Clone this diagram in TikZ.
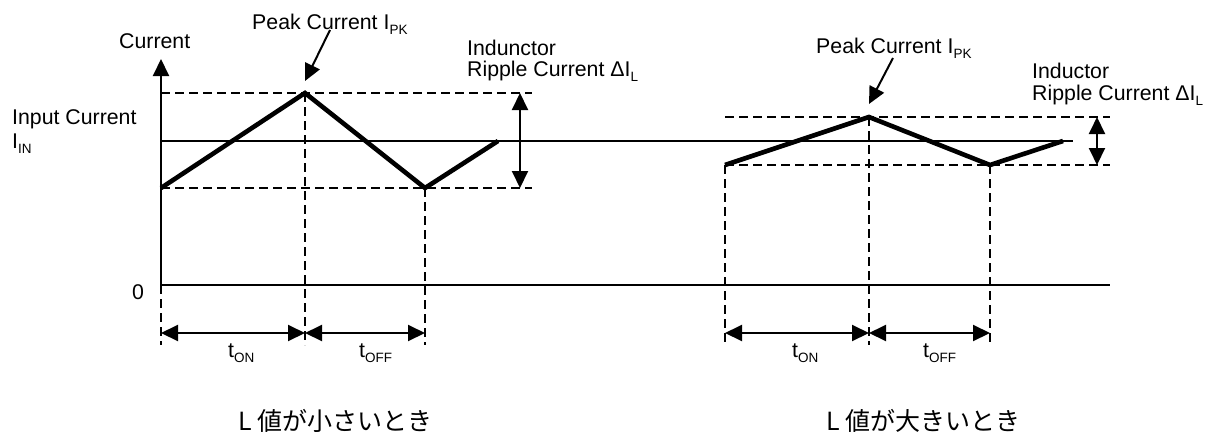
\documentclass[tikz,border=0pt]{standalone}
\usepackage{fontspec}
\setmainfont{Liberation Sans}
\newfontfamily\jpfont{Noto Sans CJK JP}
\usetikzlibrary{arrows.meta}
\newcommand\lsub[1]{\raisebox{-5pt}{\fontsize{13.5}{13.5}\selectfont #1}}
\tikzset{
  axisline/.style={line width=2pt},
  meanline/.style={line width=1.5pt},
  wave/.style={line width=4.6pt, line join=miter, line cap=butt},
  guide/.style={line width=1.7pt, dash pattern=on 9pt off 5pt},
  tip/.style={-{Triangle[length=17pt,width=16pt]}},
  dbl/.style={line width=2pt, {Triangle[length=17pt,width=16pt]}-{Triangle[length=17pt,width=16pt]}},
  lbl/.style={inner sep=0pt, anchor=base west, font=\fontsize{21.3}{23}\selectfont},
  jplbl/.style={inner sep=0pt, anchor=base west, font=\jpfont\fontsize{25}{27}\selectfont},
}
\begin{document}
\begin{tikzpicture}[x=1pt,y=-1pt]
\useasboundingbox (0,0) rectangle (1208,437);
% ---------- coordinates ----------
\coordinate (O) at (161,285);
\coordinate (Ytop) at (161,59);
\coordinate (Xend) at (1110,285);
\coordinate (INl) at (161,141);
\coordinate (INr) at (1073,141);
\coordinate (Obot) at (161,345);
% left waveform
\coordinate (A0) at (161,188);
\coordinate (A1) at (305,93);
\coordinate (A2) at (425,188);
\coordinate (A3) at (498,141);
\coordinate (ATe) at (532,93);
\coordinate (ABe) at (532,188);
\coordinate (ARt) at (520,93);
\coordinate (ARb) at (520,188);
\coordinate (A1b) at (305,345);
\coordinate (A2b) at (425,345);
\coordinate (AT0) at (161,333);
\coordinate (AT1) at (305,333);
\coordinate (AT2) at (425,333);
\coordinate (APs) at (330,30);
\coordinate (APt) at (305,81);
% right waveform
\coordinate (B0) at (725,165);
\coordinate (B1) at (869,117);
\coordinate (B2) at (990,165);
\coordinate (B3) at (1063,141);
\coordinate (BTl) at (725,117);
\coordinate (BTe) at (1110,117);
\coordinate (BBe) at (1110,165);
\coordinate (BRt) at (1097,117);
\coordinate (BRb) at (1097,165);
\coordinate (B0b) at (725,345);
\coordinate (B1b) at (869,345);
\coordinate (B2b) at (990,345);
\coordinate (BT0) at (725,333);
\coordinate (BT1) at (869,333);
\coordinate (BT2) at (990,333);
\coordinate (BPs) at (893,58);
\coordinate (BPt) at (869,104);
% ---------- axes ----------
\draw[axisline, tip] (O) -- (Ytop);
\draw[axisline] (O) -- (Xend);
\draw[meanline] (INl) -- (INr);
% ---------- guides ----------
\draw[guide] (A1 -| O) -- (ATe);
\draw[guide] (A0) -- (ABe);
\draw[guide] (O) -- (Obot);
\draw[guide] (A1) -- (A1b);
\draw[guide] (A2) -- (A2b);
\draw[guide] (BTl) -- (BTe);
\draw[guide] (B0) -- (BBe);
\draw[guide] (B0) -- (B0b);
\draw[guide] (B1) -- (B1b);
\draw[guide] (B2) -- (B2b);
% ---------- waveforms ----------
\draw[wave] (A0) -- (A1) -- (A2) -- (A3);
\draw[wave] (B0) -- (B1) -- (B2) -- (B3);
% ---------- arrows ----------
\draw[dbl] (ARt) -- (ARb);
\draw[dbl] (BRt) -- (BRb);
\draw[dbl] (AT0) -- (AT1);
\draw[dbl] (AT1) -- (AT2);
\draw[dbl] (BT0) -- (BT1);
\draw[dbl] (BT1) -- (BT2);
\draw[line width=2pt, tip] (APs) -- (APt);
\draw[line width=2pt, tip] (BPs) -- (BPt);
% ---------- labels ----------
\node[lbl] (tcur) at (119,48) {Current};
\node[lbl] (tpk1) at (252,29) {Peak Current I\lsub{PK}};
\node[lbl] (tind1) at (467,55) {Indunctor};
\node[lbl] (trip1) at (467,76) {Ripple Current ΔI\lsub{L}};
\node[lbl] (tin1) at (12,124) {Input Current};
\node[lbl] (tin2) at (12,148) {I\lsub{IN}};
\node[lbl] (tzero) at (132,299) {0};
\node[lbl] (ton1) at (228,357) {t\lsub{ON}};
\node[lbl] (toff1) at (359,357) {t\lsub{OFF}};
\node[lbl] (tpk2) at (816,53) {Peak Current I\lsub{PK}};
\node[lbl] (tind2) at (1032,78) {Inductor};
\node[lbl] (trip2) at (1032,100) {Ripple Current ΔI\lsub{L}};
\node[lbl] (ton2) at (792,357) {t\lsub{ON}};
\node[lbl] (toff2) at (923,357) {t\lsub{OFF}};
\node[jplbl] (jp1) at (238,430) {L 値が小さいとき};
\node[jplbl] (jp2) at (826,430) {L 値が大きいとき};
\end{tikzpicture}
\end{document}
